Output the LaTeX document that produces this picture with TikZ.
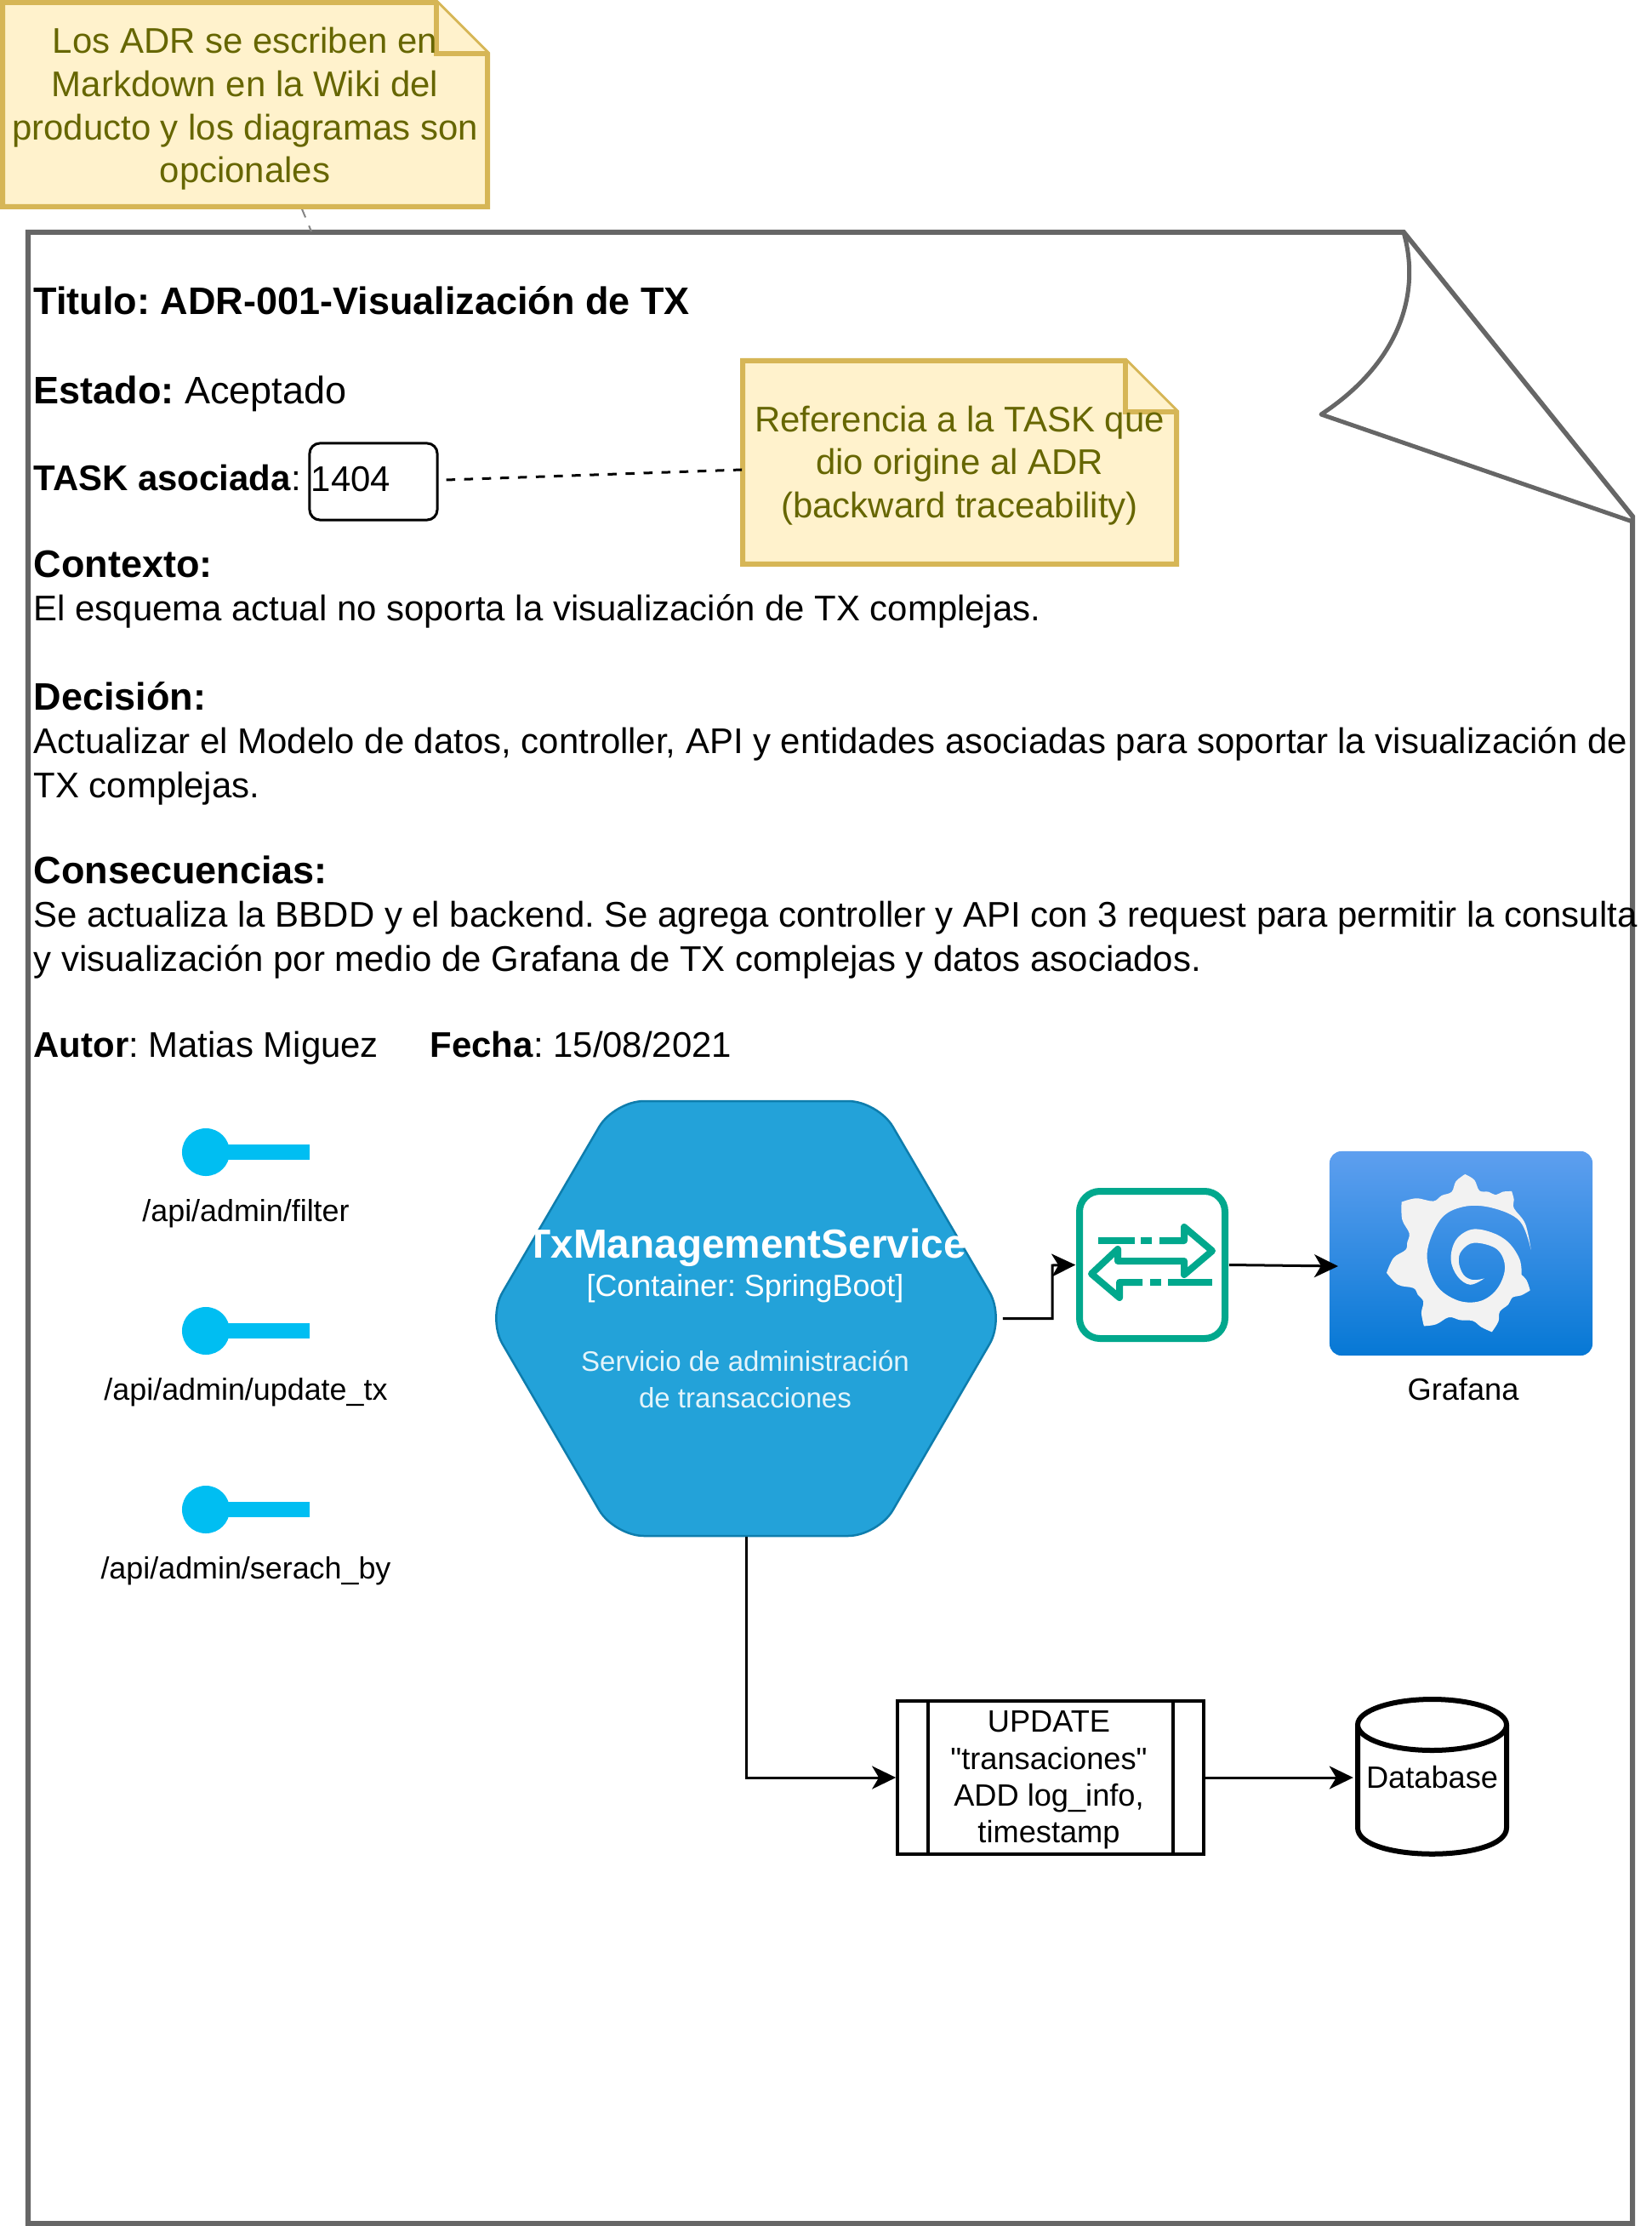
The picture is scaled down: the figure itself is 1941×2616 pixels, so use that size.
\documentclass[tikz,border=0pt]{standalone}
\usepackage{fontspec}
\setmainfont{Liberation Sans}[Ligatures=TeXOff]
\frenchspacing
\usetikzlibrary{arrows.meta,calc,positioning}
\definecolor{adrgrey}{HTML}{666666}
\definecolor{notefill}{HTML}{FFF2CC}
\definecolor{noteline}{HTML}{D6B656}
\definecolor{notetext}{HTML}{666600}
\definecolor{hexfill}{HTML}{23A2D9}
\definecolor{hexline}{HTML}{0E7DAD}
\definecolor{apiblue}{HTML}{00BEF2}
\definecolor{gatewayteal}{HTML}{01A88D}
\definecolor{grafanatop}{HTML}{5E9FEF}
\definecolor{grafanabot}{HTML}{0678D5}
\definecolor{grafanawhite}{HTML}{F2F2F2}
\tikzset{
  note/.style={draw=noteline,fill=notefill,line width=.06cm,line join=miter},
  notelabel/.style={font=\fontsize{11.92pt}{14.4pt}\selectfont,text=notetext,align=center,inner sep=0pt},
  adrline/.style={font=\fontsize{11.92pt}{14pt}\selectfont,anchor=base west,inner sep=0pt},
  adrhead/.style={font=\fontsize{12.8pt}{15pt}\selectfont,anchor=base west,inner sep=0pt},
  apilabel/.style={font=\fontsize{10.2pt}{12pt}\selectfont,inner sep=0pt},
  apidot/.style={circle,fill=apiblue,minimum size=.56cm,inner sep=0pt},
  flow/.style={-{Stealth[length=.28cm,width=.27cm,inset=.08cm]},draw=black,line width=.03cm},
  gateway/.style={draw=gatewayteal,line width=.08cm,line join=round},
  title/.style={font=\fontsize{13.57pt}{15pt}\selectfont\bfseries,text=white},
}
\begin{document}
\begin{tikzpicture}[x=.01cm,y=-.01cm]
  \useasboundingbox (0,0) rectangle (1941,2616);
  % page with curled corner
  \draw[draw=adrgrey,fill=white,line width=.06cm,line join=miter] (33,273) -- (1650,273) -- (1919,607) -- (1919,2613) -- (33,2613) -- cycle;
  \draw[draw=adrgrey,fill=white,line width=.05cm,line join=round] (1650,273) .. controls (1672,350) and (1640,430) .. (1553,487) -- (1919,613) -- (1919,607) -- cycle;
  \coordinate (pagetop) at (366,272);
  % notes
  \node[inner sep=0pt,minimum width=5.71cm,minimum height=2.4cm] (noteadr) at (288,123) {};
  \draw[draw=adrgrey!80,dashed,line width=.02cm] (noteadr.south)++(67,2) -- (pagetop);
  \draw[note] (3,3) -- (513,3) -- (573,63) -- (573,243) -- (3,243) -- cycle;
  \draw[note] (513,3) -- (513,63) -- (573,63);
  \node[notelabel] at (288,128) {Los ADR se escriben en\\Markdown en la Wiki del\\producto y los diagramas son\\opcionales};
  \node[inner sep=0pt,minimum width=5.1cm,minimum height=2.2cm] (notetask) at (1128,552) {};
  \draw[note] (873,424) -- (1323,424) -- (1383,484) -- (1383,663) -- (873,663) -- cycle;
  \draw[note] (1323,424) -- (1323,484) -- (1383,484);
  \node[notelabel] at (1128,547) {Referencia a la TASK que\\dio origine al ADR\\(backward traceability)};
  % text of the record
  \node[adrhead] at (39,370) {\textbf{Titulo: ADR-001-Visualización de TX}};
  \node[adrhead] at (39,475) {\textbf{Estado:} Aceptado};
  \node[adrline] at (39,577) {\textbf{TASK asociada}:};
  \node[adrhead] at (39,679) {\textbf{Contexto:}};
  \node[adrline] at (39,729) {El esquema actual no soporta la visualización de TX complejas.};
  \node[adrhead] at (39,834) {\textbf{Decisión:}};
  \node[adrline] at (39,885) {Actualizar el Modelo de datos, controller, API y entidades asociadas para soportar la visualización de};
  \node[adrline] at (39,937) {TX complejas.};
  \node[adrhead] at (39,1038) {\textbf{Consecuencias:}};
  \node[adrline] at (39,1089) {Se actualiza la BBDD y el backend. Se agrega controller y API con 3 request para permitir la consulta};
  \node[adrline] at (39,1141) {y visualización por medio de Grafana de TX complejas y datos asociados.};
  \node[adrline] at (39,1242) {\textbf{Autor}: Matias Miguez};
  \node[adrline] at (505,1242) {\textbf{Fecha}: 15/08/2021};
  \node[draw,rounded corners=.12cm,line width=.03cm,minimum width=1.5cm,minimum height=.9cm,inner sep=0pt,font=\fontsize{11.92pt}{14pt}\selectfont,text width=1.46cm,text depth=.07cm] (task) at (439,566) {1404};
  \draw[dashed,line width=.03cm] (task.east)++(9,-2) -- (notetask.west);
  % exposed api
  \foreach \y/\lab in {1354/filter,1564/update\_tx,1774/serach\_by} {
    \node[apidot] (dot\y) at (242,\y) {};
    \fill[apiblue] (dot\y.center) ++(0,-9) rectangle (364,\y+9);
    \node[apilabel] at (289,\y+72) {/api/admin/\lab};
  }
  % service
  \draw[draw=hexline,fill=hexfill,line width=.025cm,rounded corners=.35cm] (722,1294) -- (1032,1294) -- (1181,1549) -- (1032,1805) -- (722,1805) -- (573,1549) -- cycle;
  \node[inner sep=0pt,minimum width=6.02cm,minimum height=5.11cm] (svc) at (877,1549.5) {};
  \node[title] at (877,1466) {TxManagementService};
  \node[font=\fontsize{10.2pt}{12pt}\selectfont,text=white,inner sep=0pt] at (876,1514) {[Container: SpringBoot]};
  \node[font=\fontsize{9.4pt}{12pt}\selectfont,text=white!88!hexfill,align=center,inner sep=0pt] at (876,1621) {Servicio de administración\\de transacciones};
  % gateway icon
  \node[inner sep=0pt,minimum width=1.79cm,minimum height=1.81cm] (gate) at (1354.5,1486.5) {};
  \draw[gateway,rounded corners=.24cm] (1269,1400) rectangle (1440,1573);
  \draw[gateway] (1291,1458) -- (1334,1458) (1341,1458) -- (1354,1458);
  \draw[gateway] (1363,1458) -- (1392,1458) -- (1392,1442) -- (1425,1470) -- (1392,1498) -- (1392,1482) -- (1314,1482) -- (1314,1468) -- (1283,1497) -- (1316,1525) -- (1316,1507) -- (1343,1507);
  \draw[gateway] (1352,1507) -- (1365,1507) (1373,1507) -- (1425,1507);
  % grafana
  \node[rounded corners=.14cm,top color=grafanatop,bottom color=grafanabot,minimum width=3.09cm,minimum height=2.4cm,inner sep=0pt] (grafana) at (1717.5,1473) {};
  \begin{scope}[shift={(1610,1370)},x=.00333cm,y=-.00333cm]
    \fill[grafanawhite] plot[smooth,tension=.6] coordinates {(570,297) (530,195) (430,148) (330,145) (250,190) (203,310) (235,420) (310,475) (390,478) (450,435) (478,360) (450,295) (370,272) (325,300) (315,340) (332,385) (365,403) (405,398)}
      -- plot[smooth,tension=.6] coordinates {(405,398) (355,420) (310,390) (287,330) (305,262) (360,225) (430,235) (490,270) (530,330) (537,385)}
      -- plot[smooth,tension=.6] coordinates {(537,385) (555,405) (567,440)}
      -- plot[smooth,tension=.6] coordinates {(567,440) (535,458) (505,465) (490,490) (460,515) (455,550) (432,587)}
      -- plot[smooth,tension=.6] coordinates {(432,587) (395,570) (365,548) (320,545) (280,535) (235,560) (192,566)}
      -- plot[smooth,tension=.6] coordinates {(192,566) (183,520) (190,480) (170,455) (155,432) (100,420) (60,378)}
      -- plot[smooth,tension=.6] coordinates {(60,378) (85,325) (127,297) (133,270) (140,238) (115,190) (113,128)}
      -- plot[smooth,tension=.6] coordinates {(113,128) (165,115) (225,125) (255,105) (290,92) (305,55) (337,30)}
      -- plot[smooth,tension=.6] coordinates {(337,30) (370,50) (388,88) (420,92) (445,103) (470,92) (502,90)}
      -- plot[smooth,tension=.6] coordinates {(502,90) (510,120) (510,150) (550,205) (570,297)} -- cycle;
  \end{scope}
  \node[font=\fontsize{10.3pt}{12pt}\selectfont,inner sep=0pt] (grafanalabel) at (1720,1633) {Grafana};
  % process and database
  \node[draw,line width=.035cm,minimum width=3.6cm,minimum height=1.8cm,inner sep=0pt] (proc) at (1235,2089) {};
  \draw[line width=.035cm] (1091,1999) -- (1091,2179) (1379,1999) -- (1379,2179);
  \node[font=\fontsize{10.3pt}{12.35pt}\selectfont,align=center,inner sep=0pt] at (1233,2092) {UPDATE\\"transaciones"\\ADD log\_info,\\timestamp};
  \draw[line width=.06cm,fill=white] (1596,2027) -- (1596,2148) .. controls (1596,2189) and (1771,2189) .. (1771,2148) -- (1771,2027);
  \draw[line width=.06cm,fill=white] (1683.5,2027) ellipse [x radius=87.5,y radius=30];
  \node[minimum width=1.84cm,minimum height=1.8cm,inner sep=0pt,font=\fontsize{10.3pt}{12pt}\selectfont] (db) at (1683.5,2089) {Database};
  % connectors
  \draw[flow] (svc.east) -| (1237,1487) -- (gate.west);
  \draw[flow] (gate.east) -- (1573,1488);
  \draw[flow] (svc.south) |- (proc.west);
  \draw[flow] (proc.east) -- (db.west);
\end{tikzpicture}
\end{document}
